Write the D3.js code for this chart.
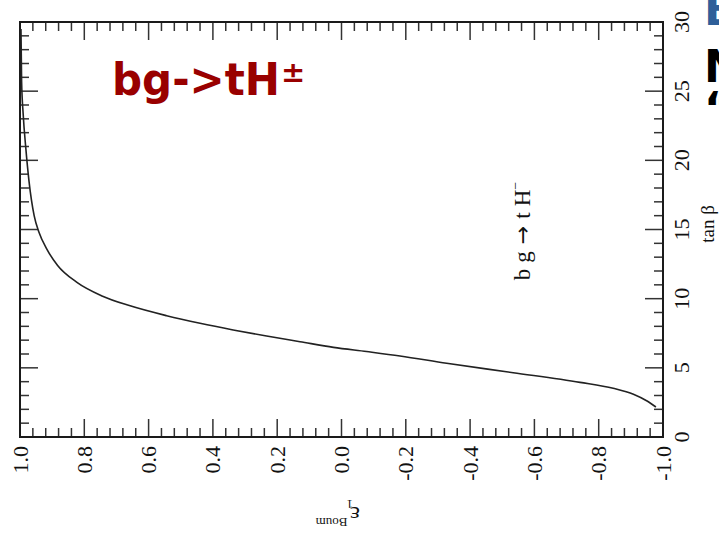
<!DOCTYPE html>
<html>
<head>
<meta charset="utf-8">
<script src="https://cdn.jsdelivr.net/npm/d3@7"></script>
<style>
  html, body { margin: 0; padding: 0; background: #fff; overflow: hidden; }
  svg { display: block; }
</style>
</head>
<body>
<svg id="chart" width="719" height="534"></svg>
<script>
// epsilon_1^Boum (horizontal axis, decreasing to the right) vs tan(beta)
const epsValues = [0.997, 0.995, 0.990, 0.982, 0.972, 0.956, 0.941, 0.917, 0.883, 0.824,
                   0.745, 0.660, 0.544, 0.440, 0.337, 0.233, 0.129, 0.025, -0.078, -0.182,
                   -0.327, -0.534, -0.742, -0.845, -0.908, -0.949, -0.978];
const tanbValues = [29.5, 25.7, 23.3, 20.9, 18.5, 16.0, 14.8, 13.6, 12.4, 11.2,
                    10.2, 9.5, 8.77, 8.22, 7.74, 7.30, 6.89, 6.48, 6.18, 5.86,
                    5.33, 4.65, 3.95, 3.52, 3.09, 2.62, 2.17];
const epsTicks = [1.0, 0.8, 0.6, 0.4, 0.2, 0.0, -0.2, -0.4, -0.6, -0.8, -1.0];
const epsTickLabels = ["1.0", "0.8", "0.6", "0.4", "0.2", "0.0", "-0.2", "-0.4", "-0.6", "-0.8", "-1.0"];
const tanbTicks = [0, 5, 10, 15, 20, 25, 30];

const svg = d3.select("#chart");
const L = 20, R = 663, T = 22, B = 437;
const serif = "'Liberation Serif', 'DejaVu Serif', serif";
const sans = "'DejaVu Sans', Verdana, sans-serif";

const x = d3.scaleLinear().domain([1, -1]).range([L, R]);
const y = d3.scaleLinear().domain([0, 30]).range([B, T]);

const tickColor = "#333";
const major = 18, minor = 9;

// minor ticks every 0.04 on top/bottom, every 1 on left/right
const epsMinor = d3.range(0, 51).map(i => 1 - i * 0.04).filter(v => Math.abs((v * 5) - Math.round(v * 5)) > 1e-6);
const tanbMinor = d3.range(0, 31).filter(v => v % 5 !== 0);

const ticks = svg.append("g").attr("stroke", tickColor).attr("stroke-width", 1.5);
function hTicks(vals, len) {
  vals.forEach(v => {
    const px = x(v);
    ticks.append("line").attr("x1", px).attr("x2", px).attr("y1", B).attr("y2", B - len);
    ticks.append("line").attr("x1", px).attr("x2", px).attr("y1", T).attr("y2", T + len);
  });
}
function vTicks(vals, len) {
  vals.forEach(v => {
    const py = y(v);
    ticks.append("line").attr("y1", py).attr("y2", py).attr("x1", L).attr("x2", L + len);
    ticks.append("line").attr("y1", py).attr("y2", py).attr("x1", R).attr("x2", R - len);
  });
}
hTicks(epsTicks, major);
hTicks(epsMinor, minor);
vTicks(tanbTicks, major);
vTicks(tanbMinor, minor);

// frame
svg.append("rect").attr("x", L).attr("y", T).attr("width", R - L).attr("height", B - T)
  .attr("fill", "none").attr("stroke", "#1a1a1a").attr("stroke-width", 2);

// curve
const pts = epsValues.map((e, i) => [x(e), y(tanbValues[i])]);
svg.append("path")
  .attr("d", d3.line().curve(d3.curveMonotoneX)(pts))
  .attr("fill", "none").attr("stroke", "#222").attr("stroke-width", 1.6);

// bottom tick labels (rotated)
svg.append("g").selectAll("text").data(epsTicks).join("text")
  .attr("transform", d => `translate(${x(d)},446) rotate(-90)`)
  .attr("text-anchor", "end").attr("dominant-baseline", "central")
  .attr("font-family", serif).attr("font-size", 22).attr("fill", "#111")
  .text((d, i) => epsTickLabels[i]);

// right tick labels (rotated)
svg.append("g").selectAll("text").data(tanbTicks).join("text")
  .attr("transform", d => `translate(681,${y(d)}) rotate(-90)`)
  .attr("text-anchor", "middle").attr("dominant-baseline", "central")
  .attr("font-family", serif).attr("font-size", 22).attr("fill", "#111")
  .text(d => d);

// tan beta axis title
svg.append("text")
  .attr("transform", "translate(707,224) rotate(-90)")
  .attr("text-anchor", "middle").attr("dominant-baseline", "central")
  .attr("font-family", serif).attr("font-size", 19).attr("fill", "#111")
  .text("tan β");

// epsilon axis title (upside down)
const eg = svg.append("g").attr("transform", "translate(352,515) rotate(180)");
const et = eg.append("text").attr("font-family", serif).attr("font-size", 24)
  .attr("fill", "#111").attr("dominant-baseline", "central");
et.append("tspan").attr("x", -8).text("ε");
et.append("tspan").attr("font-size", 13).attr("dx", -3).attr("dy", 10).text("1");
et.append("tspan").attr("font-size", 13).attr("dx", -1).attr("dy", -18).text("Boum");

// process label inside plot
const pl = svg.append("text")
  .attr("transform", "translate(530,231) rotate(-90)")
  .attr("text-anchor", "middle")
  .attr("font-family", serif).attr("font-size", 23).attr("fill", "#111");
pl.append("tspan").text("b");
pl.append("tspan").attr("dx", 6).text("g");
pl.append("tspan").attr("dx", 7).attr("font-family", "'DejaVu Sans', sans-serif").attr("font-size", 22).text("→");
pl.append("tspan").attr("dx", 7).text("t");
pl.append("tspan").attr("dx", 6).text("H");
pl.append("tspan").attr("font-size", 14).attr("dy", -10).text("−");

// title
const title = svg.append("text")
  .attr("x", 112).attr("y", 95)
  .attr("font-family", sans).attr("font-weight", "bold").attr("fill", "#990000");
title.append("tspan").attr("font-size", 44)
  .attr("textLength", 168).attr("lengthAdjust", "spacingAndGlyphs")
  .text("bg->tH");
title.append("tspan").attr("font-size", 29).attr("dx", 1).attr("dy", -13).text("±");

// heading fragments at the right edge
const heads = [
  { t: "B", y: 25, c: "#2e5f99" },
  { t: "N", y: 82, c: "#000" },
  { t: "“", y: 124, c: "#000" }
];
svg.append("g").selectAll("text").data(heads).join("text")
  .attr("x", 704).attr("y", d => d.y)
  .attr("font-family", sans).attr("font-weight", "bold")
  .attr("font-size", 44).attr("fill", d => d.c)
  .text(d => d.t);
</script>
</body>
</html>
